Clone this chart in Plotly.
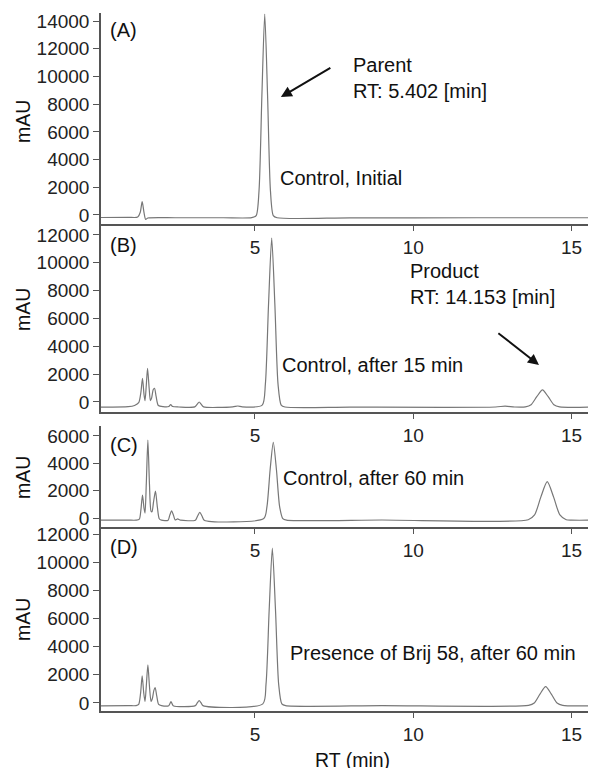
import plotly.graph_objects as go

# ---------------- data ----------------
rt_a = [0.14, 1.0, 1.30, 1.38, 1.44, 1.50, 1.55, 1.62, 2.5, 4.0, 4.9, 5.04, 5.13, 5.22, 5.31, 5.40, 5.49, 5.58, 5.70, 8.0, 12.0, 15.77]
mau_a = [-180, -170, -150, 200, 960, 150, -320, -220, -200, -200, -190, -40, 1760, 8600, 14500, 8600, 1760, -40, -200, -210, -200, -200]

rt_b = [0.14, 1.0, 1.2, 1.33, 1.40, 1.45, 1.50, 1.53, 1.57, 1.61, 1.66, 1.70, 1.74, 1.79, 1.83, 1.88, 1.95, 2.1,
        2.28, 2.34, 2.40, 2.6, 3.1, 3.18, 3.24, 3.30, 3.38, 4.3, 4.46, 4.6, 5.23, 5.33, 5.43, 5.53, 5.63, 5.73, 5.83,
        5.95, 8.0, 12.6, 12.9, 13.2, 13.54, 13.72, 13.90, 14.08, 14.26, 14.44, 14.62, 15.77]
mau_b = [-370, -340, -250, -50, 700, 1700, 500, 100, 1200, 2420, 1000, 100, 300, 900, 985, 400, -250, -340,
         -330, -180, -330, -360, -350, -150, 0, -150, -350, -350, -290, -350, -225, 1280, 7010, 11780, 7010, 1280, -225,
         -360, -370, -360, -300, -360, -350, -195, 380, 863, 380, -195, -350, -360]

rt_c = [0.14, 1.0, 1.25, 1.35, 1.40, 1.45, 1.50, 1.53, 1.57, 1.62, 1.67, 1.72, 1.75, 1.80, 1.86, 1.92, 1.98, 2.05,
        2.26, 2.31, 2.37, 2.43, 2.48, 2.56, 2.65, 3.12, 3.19, 3.26, 3.33, 3.40, 5.28, 5.38, 5.48, 5.58, 5.68, 5.78,
        5.88, 6.0, 9.0, 13.63, 13.83, 14.03, 14.23, 14.43, 14.63, 14.83, 15.0, 15.77]
mau_c = [-150, -150, -150, -80, 600, 1680, 700, 370, 2500, 5700, 2500, 500, 460, 1200, 1975, 800, -50, -150,
         -150, 200, 530, 200, -130, -60, -150, -150, 150, 420, 150, -150, -35, 840, 3530, 5540, 3530, 840,
         -35, -150, -140, -120, 230, 1550, 2660, 1550, 230, -120, -150, -150]

rt_d = [0.14, 1.0, 1.25, 1.33, 1.39, 1.44, 1.49, 1.53, 1.57, 1.62, 1.67, 1.72, 1.76, 1.81, 1.85, 1.90, 1.96, 2.05,
        2.28, 2.35, 2.42, 3.12, 3.18, 3.24, 3.30, 3.36, 5.25, 5.35, 5.45, 5.55, 5.65, 5.75, 5.85, 5.97, 9.0,
        13.64, 13.82, 14.00, 14.18, 14.36, 14.54, 14.72, 15.77]
mau_d = [-200, -190, -190, -100, 700, 1930, 700, 100, 1200, 2710, 1200, 100, 300, 900, 1100, 500, -100, -190,
         -190, 100, -190, -190, 0, 160, 0, -190, -65, 1325, 6600, 11000, 6600, 1325, -65, -190, -190,
         -170, -7, 630, 1160, 630, -7, -170, -190]

panel_labels = ["(A)", "(B)", "(C)", "(D)"]
y_ticks = [list(range(0, 14001, 2000)), list(range(0, 12001, 2000)),
           list(range(0, 6001, 2000)), list(range(0, 12001, 2000))]
x_ticks = [5, 10, 15]
sample_texts = ["Control, Initial", "Control, after 15 min", "Control, after 60 min",
                "Presence of Brij 58, after 60 min"]

# ---------------- figure ----------------
FONT = "Liberation Sans, Arial, sans-serif"
OFF = 8                      # default page body margin
W, H = 596 - OFF, 768 - OFF
PLOT_L, PLOT_T, PLOT_B, PLOT_R = 101, 13, 711, 596   # page pixel edges of the plot area
ML, MT, MB, MR = PLOT_L - OFF, PLOT_T - OFF, 768 - PLOT_B, 0
plot_h = PLOT_B - PLOT_T
plot_w = PLOT_R - PLOT_L


def py(p):
    return (PLOT_B - p) / plot_h


def px(p):
    return (p - PLOT_L) / plot_w


domains = [[py(224), 1.0], [py(412), py(224)], [py(527), py(426)], [0.0, py(527)]]
y_ranges = [[-650, 14580], [-720, 12790], [-650, 6730], [-570, 12500]]
x_range = [0.14, 15.77]

fig = go.Figure()
series = [(rt_a, mau_a), (rt_b, mau_b), (rt_c, mau_c), (rt_d, mau_d)]
for i, (xs, ys) in enumerate(series):
    sfx = "" if i == 0 else str(i + 1)
    fig.add_trace(go.Scatter(x=xs, y=ys, mode="lines", xaxis="x" + sfx, yaxis="y" + sfx,
                             line=dict(color="#777777", width=1.2, shape="spline", smoothing=0.7),
                             showlegend=False, hoverinfo="skip"))

axis_common = dict(showline=True, linecolor="#555555", linewidth=1.5, ticks="outside",
                   tickcolor="#555555", showgrid=False, zeroline=False, automargin=False,
                   tickfont=dict(family=FONT, size=19, color="#222222"))
layout = dict(width=W, height=H, margin=dict(l=ML, r=MR, t=MT, b=MB, pad=0),
              paper_bgcolor="white", plot_bgcolor="white", showlegend=False)
for i in range(4):
    sfx = "" if i == 0 else str(i + 1)
    layout["xaxis" + sfx] = dict(axis_common, domain=[0, 1], range=x_range, anchor="y" + sfx,
                                 tickvals=x_ticks, ticklen=5)
    layout["yaxis" + sfx] = dict(axis_common, domain=domains[i], range=y_ranges[i], anchor="x" + sfx,
                                 tickvals=y_ticks[i], ticklen=6, tickformat="d")
fig.update_layout(**layout)

tfont = dict(family=FONT, size=20, color="#111111")
PADX = 2
ann = []
# panel letters
for lab, yc in zip(panel_labels, [30, 245, 445, 547]):
    ann.append(dict(text=lab, xref="paper", yref="paper", x=px(110 - PADX), y=py(yc), xanchor="left",
                    yanchor="middle", showarrow=False, font=tfont))
# mAU titles
for yc in [122, 310, 478, 620]:
    ann.append(dict(text="mAU", xref="paper", yref="paper", x=px(23), y=py(yc), xanchor="center",
                    yanchor="middle", textangle=-90, showarrow=False,
                    font=dict(family=FONT, size=19.5, color="#111111")))
# sample descriptions
for t, (xl, yc) in zip(sample_texts, [(280, 178), (282, 365), (283, 478), (290, 653)]):
    ann.append(dict(text=t, xref="paper", yref="paper", x=px(xl - PADX), y=py(yc), xanchor="left",
                    yanchor="middle", showarrow=False, font=tfont))
# peak labels
ann.append(dict(text="Parent<br>RT: 5.402 [min]", xref="paper", yref="paper", x=px(353 - PADX), y=py(78),
                xanchor="left", yanchor="middle", align="left", showarrow=False, font=tfont))
ann.append(dict(text="Product<br>RT: 14.153 [min]", xref="paper", yref="paper", x=px(410 - PADX), y=py(284),
                xanchor="left", yanchor="middle", align="left", showarrow=False, font=tfont))
# arrows
ann.append(dict(text="", xref="x", yref="y", x=5.82, y=8517, axref="x", ayref="y", ax=7.43, ay=10680,
                showarrow=True, arrowhead=2, arrowsize=1.1, arrowwidth=2, arrowcolor="#111111"))
ann.append(dict(text="", xref="x2", yref="y2", x=13.97, y=2657, axref="x2", ayref="y2", ax=12.64, ay=5029,
                showarrow=True, arrowhead=2, arrowsize=1.1, arrowwidth=2, arrowcolor="#111111"))
# x-axis title
ann.append(dict(text="RT (min)", xref="paper", yref="paper", x=px(352), y=py(760), xanchor="center",
                yanchor="middle", showarrow=False, font=dict(family=FONT, size=19.5, color="#111111")))
fig.update_layout(annotations=ann)

fig.write_html("out.html")
